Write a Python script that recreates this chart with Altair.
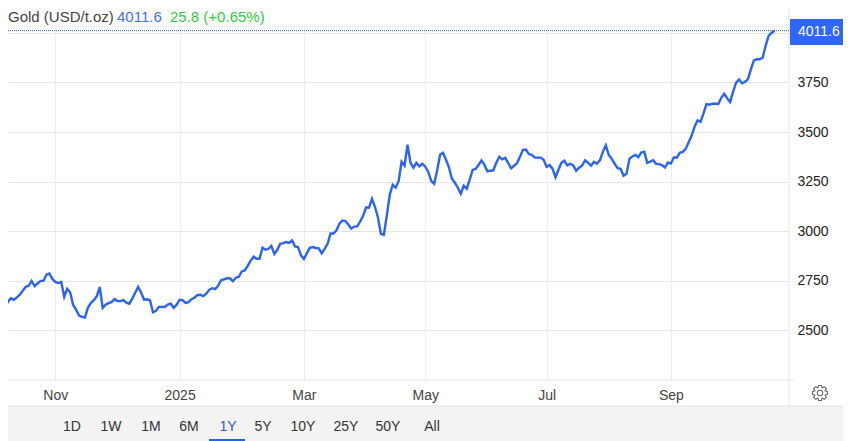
import math
import altair as alt
import pandas as pd

# ---- data (one value per trading session) ----
PRICES = [
2612,2644,2661,2654,2666,2679,2699,2719,2724,2749,2723,2736,2749,2749,2780,2786,2759,2744,2738,2744,
2669,2709,2692,2629,2604,2574,2568,2564,2613,2637,2652,2671,2718,2613,2629,2637,2642,2657,2647,2647,
2652,2639,2634,2659,2689,2719,2689,2654,2656,2651,2591,2598,2618,2618,2617,2629,2634,2613,2629,2654,
2652,2638,2642,2657,2664,2677,2679,2672,2684,2704,2712,2707,2724,2752,2757,2762,2762,2747,2765,2770,
2797,2802,2825,2851,2871,2861,2861,2916,2906,2911,2926,2885,2906,2936,2940,2945,2941,2953,2923,2920,
2878,2859,2889,2916,2920,2915,2913,2888,2911,2936,2988,2988,3004,3038,3054,3051,3033,3013,3023,3024,
3048,3078,3120,3118,3163,3123,3070,2986,2981,3078,3183,3234,3219,3252,3350,3330,3436,3345,3320,3345,
3327,3340,3325,3300,3254,3239,3305,3385,3395,3360,3322,3264,3244,3219,3189,3229,3214,3259,3309,
3314,3334,3357,3334,3302,3305,3307,3345,3375,3362,3370,3345,3317,3330,3342,3375,3410,3412,3389,3385,
3371,3371,3371,3360,3325,3333,3315,3272,3310,3345,3355,3332,3340,3332,3305,3320,3332,3357,3345,3330,
3350,3340,3357,3400,3433,3385,3365,3340,3318,3315,3280,3290,3365,3377,3385,3373,3397,3401,3345,3351,
3358,3340,3338,3333,3321,3346,3341,3373,3371,3395,3400,3415,3449,3481,3527,3559,3552,3593,3641,3638,
3643,3643,3642,3673,3693,3671,3651,3703,3748,3766,3746,3753,3766,3815,3860,3867,3867,3875,3935,3985,
4000,4011.6,
]
MONTH_SESSIONS = [17, 59, 101, 142, 183, 225]
MONTH_LABELS = ["Nov", "2025", "Mar", "May", "Jul", "Sep"]
PRICE_TICKS = [2500, 2750, 3000, 3250, 3500, 3750, 4000]
LAST_PRICE = 4011.6
HEADER_NAME = "Gold (USD/t.oz)"
HEADER_LAST = "4011.6"
HEADER_CHANGE = "25.8 (+0.65%)"
RANGE_BUTTONS = ["1D", "1W", "1M", "6M", "1Y", "5Y", "10Y", "25Y", "50Y", "All"]

# ---- layout and style ----
FONT = "Liberation Sans"
BLUE = "#2a63f6"
W, H = 781, 354
BUTTON_X = [72, 111, 151, 189, 228, 263, 303, 346, 388, 432]
ONE = alt.Data(values=[{"k": 1}])


def px(v):
    return alt.value(v - 8)


def py(v):
    return alt.value(v - 26)


def label(text, x, y, color, size=14, align="left"):
    return alt.Chart(ONE).mark_text(
        text=text, font=FONT, fontSize=size, color=color, align=align, baseline="middle"
    ).encode(x=px(x), y=py(y))


def box(x0, x1, y0, y1, color):
    return alt.Chart(ONE).mark_rect(color=color).encode(
        x=px(x0), x2=px(x1), y=py(y0), y2=py(y1)
    )


def gear_path(teeth=8, ro=1.0, ri=0.74, hole=0.36):
    pts = []
    step = 2 * math.pi / teeth
    for t in range(teeth):
        a = t * step
        for da, r in ((-0.30, ri), (-0.17, ro), (0.17, ro), (0.30, ri)):
            pts.append((r * math.cos(a + da * step * 1.5), r * math.sin(a + da * step * 1.5)))
    d = "M" + " L".join(f"{x:.3f},{y:.3f}" for x, y in pts) + " Z"
    d += f" M{hole},0 A{hole},{hole} 0 1,0 {-hole},0 A{hole},{hole} 0 1,0 {hole},0 Z"
    return d


df = pd.DataFrame({"session": range(len(PRICES)), "price": PRICES})

month_expr = "{" + ",".join(f"'{s}':'{l}'" for s, l in zip(MONTH_SESSIONS, MONTH_LABELS)) + "}[datum.value]"

x_enc = alt.X(
    "session:Q",
    scale=alt.Scale(domain=[1.01, 264.9], nice=False, zero=False),
    axis=alt.Axis(
        values=MONTH_SESSIONS, labelExpr=month_expr, title=None, grid=True,
        gridColor="#eeeeee", gridWidth=1, ticks=False, domain=False,
        labelFont=FONT, labelFontSize=14, labelColor="#444444", labelPadding=8,
        labelFlush=False, labelOverlap=False,
    ),
)
y_enc = alt.Y(
    "price:Q",
    scale=alt.Scale(domain=[2249, 4035], nice=False, zero=False),
    axis=alt.Axis(
        orient="right", values=PRICE_TICKS,
        labelExpr="datum.value == 4000 ? '' : format(datum.value, 'd')",
        title=None, grid=True, gridColor="#e6e6e6", gridWidth=1, ticks=False, domain=False,
        labelFont=FONT, labelFontSize=14, labelColor="#222222", labelPadding=8,
        labelOverlap=False,
    ),
)

line = alt.Chart(df).mark_line(color=BLUE, strokeWidth=2.4, clip=True, interpolate="linear").encode(
    x=x_enc, y=y_enc
)
last_line = alt.Chart(ONE).mark_rule(color=BLUE, strokeWidth=1, strokeDash=[1, 1]).encode(
    x=alt.value(0), x2=alt.value(W), y=alt.datum(LAST_PRICE)
)

base_line = alt.Chart(ONE).mark_rule(color="#e6e6e6", strokeWidth=1).encode(
    x=alt.value(0), x2=px(794), y=py(380)
)
right_line = alt.Chart(ONE).mark_rule(color="#e6e6e6", strokeWidth=1).encode(
    x=alt.value(W), y=py(8), y2=py(406)
)

gear = alt.Chart(ONE).mark_point(
    shape=gear_path(), size=230, filled=False, stroke="#666666", strokeWidth=1.1, opacity=1
).encode(x=px(820), y=py(393))

layers = [
    box(0, 851, 406, 441, "#f3f3f3"),
    alt.Chart(ONE).mark_rule(color="#e2e2e2", strokeWidth=1).encode(x=alt.value(0), x2=px(851), y=py(406)),
    base_line,
    right_line,
    last_line,
    line,
    box(790, 851, 19, 45, "#2f66ff"),
    label(HEADER_LAST, 798, 32, "#ffffff"),
    label(HEADER_NAME, 8, 17.2, "#444444", size=15),
    label(HEADER_LAST, 117, 17.2, "#3f6fff", size=15),
    label(HEADER_CHANGE, 170, 17.2, "#2ecc40", size=15),
    gear,
    box(209, 245, 439, 441, "#2f5fe8"),
]
for name, bx in zip(RANGE_BUTTONS, BUTTON_X):
    layers.append(label(name, bx, 426.5, "#3355dd" if name == "1Y" else "#333333", align="center"))

chart = alt.layer(*layers).properties(
    width=W, height=H,
    padding={"left": 0, "top": 18, "right": 54, "bottom": 61},
    autosize=alt.AutoSizeParams(type="none"),
).configure_view(stroke=None)

chart.save("out.html", embed_options={"renderer": "svg", "actions": False})
